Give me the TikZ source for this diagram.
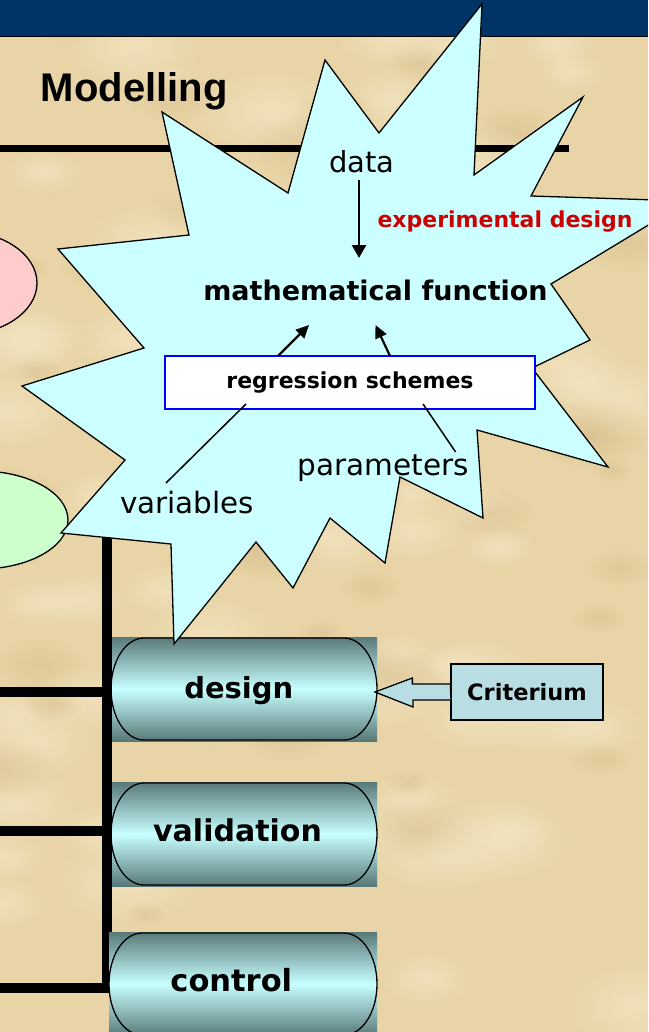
\documentclass[tikz,border=0pt]{standalone}
\usepackage{fontspec}
\setmainfont{DejaVu Sans}
\newfontfamily\libsans{Liberation Sans}
\usetikzlibrary{arrows.meta,fadings}
\tikzfading[name=softblob, inner color=transparent!0, outer color=transparent!100]
\definecolor{bgcol}{HTML}{E8D4A6}
\definecolor{bglight}{HTML}{F4E6C4}
\definecolor{bgdark}{HTML}{D6BE8E}
\definecolor{navy}{HTML}{003366}
\definecolor{starcyan}{HTML}{CCFFFF}
\definecolor{pinkfill}{HTML}{FFCCCC}
\definecolor{greenfill}{HTML}{CCFFCC}
\definecolor{pilldark}{HTML}{587878}
\definecolor{pilllight}{HTML}{C8FFFF}
\definecolor{critblue}{HTML}{B8DEE4}
\definecolor{expred}{HTML}{CC0000}
\definecolor{regblue}{HTML}{0000FF}
\newcommand\fsz[1]{\fontsize{#1}{#1}\selectfont}
\begin{document}
\begin{tikzpicture}[x=1pt,y=-1pt,
  lbl/.style={inner sep=0pt,anchor=base,text=black},
  outl/.style={draw=black,line width=1.3pt},
  barline/.style={line width=10pt,black,line cap=butt},
  darr/.style={line width=2.5pt,-{Triangle[width=14pt,length=13pt]}},
  rarr/.style={line width=2.2pt,-{Triangle[width=12pt,length=13pt]}},
  thinline/.style={line width=1.5pt,black},
  pillshade/.style={top color=pilldark,bottom color=pilldark,middle color=pilllight},
  pilltext/.style={lbl,font=\bfseries\fsz{29}},
  blob/.style={path fading=softblob}
]
\useasboundingbox (0,0) rectangle (648,1032);
\clip (0,0) rectangle (648,1032);
% background with a soft parchment mottle
\fill[bgcol] (0,0) rectangle (648,1032);
\pgfmathsetseed{11}
\foreach \i in {1,...,70}{
  \pgfmathsetmacro\bx{rnd*648}
  \pgfmathsetmacro\by{rnd*1032}
  \pgfmathsetmacro\br{30+rnd*50}
  \fill[bglight,blob,opacity=0.7] (\bx,\by) ellipse [x radius=\br pt,y radius=0.6*\br pt];
}
\foreach \i in {1,...,45}{
  \pgfmathsetmacro\bx{rnd*648}
  \pgfmathsetmacro\by{rnd*1032}
  \pgfmathsetmacro\br{20+rnd*40}
  \fill[bgdark,blob,opacity=0.5] (\bx,\by) ellipse [x radius=\br pt,y radius=0.6*\br pt];
}
\fill[navy] (0,0) rectangle (648,36);
\draw[black,line width=0.8pt] (0,36) -- (648,36);
% title
\node[lbl,font=\libsans\bfseries\fsz{40}] (title) at (134.3,102) {Modelling};
% top rule
\coordinate (hl0) at (0,148.5);
\coordinate (hl1) at (569,148.5);
\draw[line width=7pt,line cap=butt] (hl0) -- (hl1);
% ellipses
\draw[outl,fill=pinkfill] (-40,283) ellipse [x radius=77pt,y radius=52pt];
\draw[outl,fill=greenfill] (-20,520) ellipse [x radius=88pt,y radius=49pt];
% spine and branches
\coordinate (sp0) at (107,537);
\coordinate (sp1) at (107,993);
\coordinate (b1a) at (0,692);   \coordinate (b1b) at (112,692);
\coordinate (b2a) at (0,831);   \coordinate (b2b) at (112,831);
\coordinate (b3a) at (0,988);   \coordinate (b3b) at (112,988);
\draw[barline] (sp0) -- (sp1);
\draw[barline] (b1a) -- (b1b);
\draw[barline] (b2a) -- (b2b);
\draw[barline] (b3a) -- (b3b);
% pills
\shade[pillshade] (112,637) rectangle (377,741);
\draw[outl] (144,638) -- (344,638) arc[start angle=90,end angle=-90,x radius=33pt,y radius=51pt]
  -- (144,740) arc[start angle=270,end angle=90,x radius=33pt,y radius=51pt] -- cycle;
\node[pilltext] (design) at (238.8,698) {design};
\shade[pillshade] (112,782) rectangle (377,886);
\draw[outl] (144,783) -- (344,783) arc[start angle=90,end angle=-90,x radius=33pt,y radius=51pt]
  -- (144,885) arc[start angle=270,end angle=90,x radius=33pt,y radius=51pt] -- cycle;
\node[pilltext,font=\bfseries\fsz{30}] (validation) at (237.5,841.5) {validation};
\shade[pillshade] (109,932) rectangle (377,1036);
\draw[outl] (142,933) -- (344,933) arc[start angle=90,end angle=-90,x radius=33pt,y radius=51pt]
  -- (142,1035) arc[start angle=270,end angle=90,x radius=33pt,y radius=51pt] -- cycle;
\node[pilltext,font=\bfseries\fsz{30.5}] (control) at (231.3,991.5) {control};
% criterium
\node[outl,fill=critblue,minimum width=152pt,minimum height=56pt,inner sep=0pt,
      font=\bfseries\fsz{22.5}] (crit) at (527,692) {Criterium};
\coordinate (ctip) at (375,692);
\draw[outl,fill=critblue,line join=miter] (crit.west) ++(0,-8) -- ++(-38,0) -- ++(0,-6)
  -- (ctip) -- ++(38,15) -- ++(0,-7) -- ++(38,0) -- cycle;
% explosion star
\draw[outl,fill=starcyan,line join=miter,miter limit=20]
  (482,4) -- (474,175) -- (583,97) -- (531,196) -- (688,201) -- (551,284)
  -- (590,340) -- (532,368) -- (608,467) -- (477,430) -- (483,518)
  -- (400,477) -- (385,563) -- (330,518) -- (293,588) -- (256,542)
  -- (174,644) -- (171,544) -- (61,533) -- (125,460) -- (22,386)
  -- (144,348) -- (58,249) -- (189,235) -- (162,112) -- (288,193)
  -- (325,60) -- (379,133) -- cycle;
% contents of the star
\node[lbl,font=\fsz{29}] (data) at (362,173) {data};
\node[lbl,font=\bfseries\fsz{22},text=expred] (expd) at (505,227) {experimental design};
\node[lbl,font=\bfseries\fsz{27}] (func) at (375.5,300) {mathematical function};
\node[draw=regblue,line width=1.5pt,fill=white,minimum width=370pt,minimum height=53pt,
      inner sep=0pt,font=\bfseries\fsz{22}] (reg) at (350,382.5) {regression schemes};
\node[lbl,font=\fsz{29.5}] (param) at (383.5,475) {parameters};
\node[lbl,font=\fsz{29.4}] (vars) at (187,513) {variables};
\coordinate (d0) at (359,180);
\coordinate (d1) at (359,258);
\draw[darr] (d0) -- (d1);
\coordinate (r1) at (278,356);
\coordinate (f1) at (309,325);
\coordinate (r2) at (390,356);
\coordinate (f2) at (375.5,325);
\draw[rarr] (r1) -- (f1);
\draw[rarr] (r2) -- (f2);
\coordinate (v0) at (166,483);
\coordinate (v1) at (246,404);
\draw[thinline] (v0) -- (v1);
\coordinate (p0) at (455.6,452);
\coordinate (p1) at (423,404);
\draw[thinline] (p0) -- (p1);
\end{tikzpicture}
\end{document}
